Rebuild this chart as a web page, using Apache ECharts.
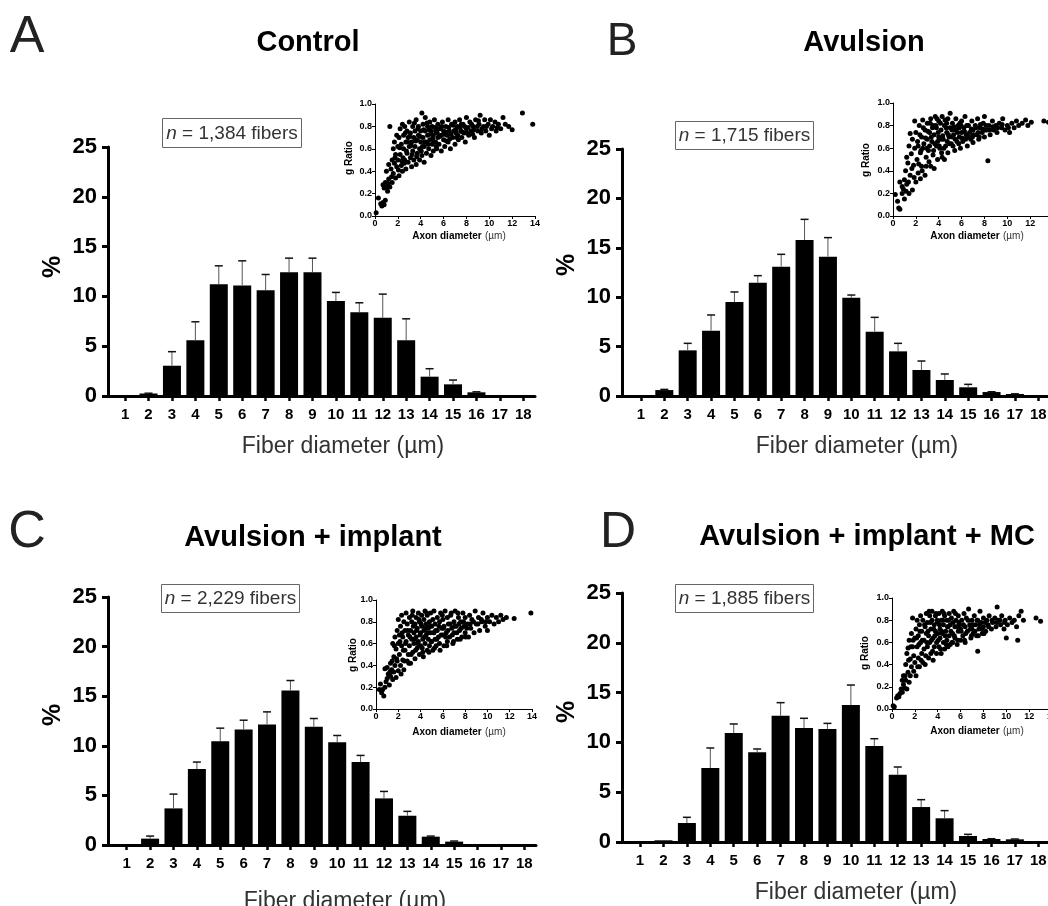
<!DOCTYPE html>
<html>
<head>
<meta charset="utf-8">
<script src="https://cdn.jsdelivr.net/npm/echarts@6/dist/echarts.min.js"></script>
<style>
  html, body { margin: 0; padding: 0; background: #fff; }
  #chart { width: 1048px; height: 906px; }
</style>
</head>
<body>
<div id="chart"></div>
<script>
// fiber diameter classes (µm)
const diameters = [1, 2, 3, 4, 5, 6, 7, 8, 9, 10, 11, 12, 13, 14, 15, 16, 17, 18];

// % of fibers per class, and SEM (upper whisker only)
const controlPct  = [0.05, 0.25, 3.04, 5.6, 11.23, 11.1, 10.63, 12.43, 12.43, 9.53, 8.42, 7.85, 5.6, 1.94, 1.17, 0.37, 0.05, 0.1];
const controlSem  = [0, 0.03, 1.41, 1.85, 1.84, 2.47, 1.57, 1.41, 1.41, 0.87, 0.94, 2.38, 2.15, 0.8, 0.43, 0.05, 0, 0];
const avulsionPct = [0.03, 0.6, 4.62, 6.61, 9.51, 11.47, 13.09, 15.79, 14.1, 9.95, 6.51, 4.52, 2.63, 1.62, 0.88, 0.4, 0.2, 0.05];
const avulsionSem = [0, 0.07, 0.71, 1.59, 1.02, 0.71, 1.25, 2.09, 1.93, 0.27, 1.45, 0.81, 0.91, 0.61, 0.3, 0.03, 0.02, 0];
const implantPct  = [0.02, 0.64, 3.69, 7.65, 10.47, 11.64, 12.15, 15.57, 11.91, 10.37, 8.36, 4.7, 2.95, 0.84, 0.34, 0.02, 0.02, 0.02];
const implantSem  = [0, 0.26, 1.44, 0.71, 1.31, 0.94, 1.27, 1.01, 0.84, 0.67, 0.67, 0.7, 0.44, 0.06, 0.06, 0, 0, 0];
const mcPct       = [0.03, 0.17, 1.91, 7.43, 10.94, 9.0, 12.68, 11.45, 11.35, 13.76, 9.64, 6.76, 3.51, 2.38, 0.6, 0.3, 0.27, 0.05];
const mcSem       = [0, 0, 0.57, 2.01, 0.91, 0.34, 1.31, 0.97, 0.56, 2.0, 0.73, 0.77, 0.74, 0.77, 0.17, 0.03, 0.03, 0];

const titles = ['Control', 'Avulsion', 'Avulsion + implant', 'Avulsion + implant + MC'];
const letters = ['A', 'B', 'C', 'D'];
const fiberCounts = ['1,384', '1,715', '2,229', '1,885'];

// inset: [axon diameter (µm), g ratio]
const controlRatio = [
  [0.1,0.03],[0.3,0.16],[0.5,0.11],[0.6,0.09],[0.7,0.12],[0.8,0.1],[0.9,0.14],[0.7,0.28],[0.8,0.25],[0.9,0.3],
  [1.0,0.26],[1.1,0.22],[1.2,0.33],[1.3,0.8],[1.3,0.26],[1.4,0.42],[1.5,0.5],[1.5,0.3],[1.6,0.38],[1.6,0.6],
  [1.7,0.47],[1.7,0.66],[1.8,0.34],[1.8,0.55],[1.9,0.72],[1.9,0.44],[2.0,0.62],[2.0,0.5],[1.2,0.46],[1.0,0.4],
  [2.1,0.36],[2.1,0.7],[2.2,0.55],[2.2,0.78],[2.3,0.45],[2.3,0.64],[2.4,0.82],[2.4,0.4],[2.5,0.6],[2.5,0.72],
  [2.6,0.5],[2.6,0.8],[2.7,0.66],[2.7,0.42],[2.8,0.56],[2.8,0.76],[2.9,0.7],[2.9,0.48],[3.0,0.62],[3.0,0.84],
  [3.1,0.52],[3.1,0.74],[3.2,0.44],[3.2,0.66],[3.3,0.8],[3.3,0.58],[3.4,0.7],[3.4,0.5],[3.5,0.76],[3.5,0.62],
  [3.6,0.86],[3.6,0.46],[3.7,0.68],[3.7,0.56],[3.8,0.8],[3.8,0.72],[3.9,0.6],[3.9,0.5],[4.0,0.76],[4.0,0.66],
  [4.1,0.92],[4.1,0.54],[4.2,0.7],[4.2,0.82],[4.3,0.62],[4.3,0.48],[4.4,0.76],[4.4,0.88],[4.5,0.66],[4.5,0.56],
  [4.6,0.8],[4.6,0.72],[4.7,0.6],[4.8,0.84],[4.8,0.68],[4.9,0.54],[4.9,0.76],[5.0,0.64],[5.0,0.8],
  [5.1,0.72],[5.1,0.58],[5.2,0.86],[5.3,0.66],[5.3,0.76],[5.4,0.6],[5.5,0.82],[5.5,0.7],[5.6,0.64],[5.7,0.78],
  [5.8,0.72],[5.8,0.58],[5.9,0.84],[6.0,0.68],[6.0,0.76],
  [6.1,0.62],[6.2,0.8],[6.3,0.72],[6.4,0.86],[6.4,0.66],[6.5,0.76],[6.6,0.6],[6.7,0.82],[6.8,0.7],[6.9,0.76],
  [7.0,0.64],[7.0,0.84],[7.1,0.74],[7.2,0.8],[7.3,0.68],[7.4,0.86],[7.5,0.76],[7.6,0.7],[7.7,0.82],[7.8,0.74],
  [7.9,0.66],[8.0,0.88],[8.0,0.78],[8.2,0.72],[8.3,0.84],[8.4,0.76],[8.6,0.8],[8.7,0.7],[8.8,0.86],[9.0,0.76],
  [9.1,0.82],[9.2,0.9],[9.3,0.74],[9.5,0.8],[9.6,0.86],[9.7,0.76],[9.9,0.82],[10.0,0.72],[10.1,0.86],
  [10.3,0.8],[10.5,0.84],[10.6,0.76],[10.8,0.82],[11.0,0.78],[11.2,0.88],[11.4,0.82],[11.7,0.8],[12.0,0.77],
  [12.9,0.92],[13.8,0.82]
];
const controlRatioCore = [
  [2.15,0.61],[2.45,0.52],[2.65,0.74],[2.85,0.66],[3.05,0.71],[3.25,0.55],[3.45,0.83],[3.55,0.67],[3.75,0.78],[3.95,0.71],
  [4.05,0.58],[4.25,0.77],[4.35,0.66],[4.55,0.83],[4.65,0.64],[4.85,0.73],[5.05,0.69],[5.25,0.79],[5.35,0.62],[5.45,0.74],
  [5.65,0.71],[5.85,0.8],[6.05,0.73],[6.25,0.67],[6.45,0.79],[6.65,0.73],[6.85,0.81],[7.05,0.77],[7.25,0.72],[7.45,0.79],
  [7.65,0.75],[7.85,0.8],[8.15,0.79],[8.45,0.82],[8.65,0.77],[8.95,0.8],[9.35,0.78],[9.75,0.8],[10.2,0.78],[10.7,0.79],
  [2.35,0.49],[2.75,0.58],[3.15,0.63],[3.65,0.53],[4.15,0.62],[4.75,0.77],[5.15,0.66],[5.55,0.78],[6.15,0.75],[6.55,0.69],
  [7.15,0.7],[7.55,0.82],[8.05,0.74],[8.55,0.73],[9.05,0.85],[1.75,0.52],[1.45,0.35],[1.15,0.29],[2.05,0.41],[2.55,0.47]
];
const avulsionRatio = [
  [0.2,0.19],[0.4,0.13],[0.5,0.07],[0.6,0.06],[0.6,0.3],[0.8,0.2],[0.8,0.26],[0.9,0.24],[1.0,0.32],[1.0,0.15],
  [1.1,0.4],[1.2,0.28],[1.3,0.47],[1.4,0.62],[1.5,0.73],[1.5,0.36],[1.6,0.55],[1.7,0.23],[1.7,0.68],[1.8,0.45],
  [1.9,0.6],[1.9,0.84],[2.0,0.3],[2.0,0.74],[1.2,0.52],[1.4,0.2],
  [2.1,0.5],[2.2,0.62],[2.2,0.38],[2.3,0.8],[2.4,0.56],[2.5,0.7],[2.5,0.44],[2.6,0.85],[2.7,0.64],[2.8,0.36],
  [2.8,0.76],[2.9,0.52],[3.0,0.68],[3.0,0.82],[2.4,0.33],[2.6,0.6],[2.9,0.44],
  [3.1,0.58],[3.2,0.74],[3.3,0.86],[3.3,0.44],[3.4,0.66],[3.5,0.8],[3.5,0.54],[3.6,0.72],[3.7,0.88],[3.8,0.62],
  [3.8,0.78],[3.9,0.5],[4.0,0.7],[4.0,0.84],[3.6,0.42],[3.2,0.62],[3.9,0.66],
  [4.1,0.6],[4.2,0.76],[4.3,0.88],[4.3,0.52],[4.4,0.68],[4.5,0.8],[4.6,0.62],[4.7,0.74],[4.8,0.86],[4.8,0.56],
  [4.9,0.7],[5.0,0.91],[5.0,0.78],[4.5,0.5],[4.2,0.68],[4.7,0.82],
  [5.1,0.64],[5.2,0.82],[5.3,0.72],[5.4,0.58],[5.5,0.86],[5.5,0.76],[5.6,0.66],[5.7,0.8],[5.8,0.7],[5.9,0.6],
  [6.0,0.84],[6.0,0.74],[5.2,0.7],[5.8,0.78],
  [6.1,0.66],[6.2,0.78],[6.3,0.88],[6.4,0.72],[6.5,0.62],[6.6,0.8],[6.7,0.74],[6.8,0.68],[6.9,0.84],[7.0,0.76],
  [7.0,0.65],[7.2,0.8],[7.3,0.72],[7.4,0.86],[7.5,0.68],[7.6,0.78],[7.8,0.74],[7.9,0.82],[8.0,0.7],[8.0,0.88],
  [8.2,0.76],[8.3,0.49],[8.4,0.8],[8.5,0.72],[8.7,0.84],[8.8,0.76],[9.0,0.8],[9.1,0.74],[9.3,0.82],[9.5,0.78],
  [9.6,0.86],[9.8,0.76],[10.0,0.8],[10.2,0.74],[10.4,0.82],[10.6,0.78],[10.8,0.84],[11.0,0.8],[11.3,0.82],
  [11.6,0.85],[11.8,0.8],[12.1,0.83],[13.2,0.84],[13.6,0.83],[14.0,0.92]
];
const avulsionRatioCore = [
  [2.15,0.66],[2.35,0.72],[2.45,0.58],[2.65,0.78],[2.85,0.69],[3.05,0.75],[3.15,0.48],[3.35,0.7],[3.45,0.78],[3.65,0.64],
  [3.75,0.8],[3.95,0.74],[4.05,0.62],[4.15,0.82],[4.35,0.71],[4.45,0.6],[4.65,0.78],[4.85,0.72],[4.95,0.64],[5.15,0.76],
  [5.35,0.79],[5.45,0.68],[5.65,0.74],[5.85,0.82],[6.05,0.69],[6.25,0.75],[6.45,0.8],[6.65,0.7],[6.85,0.77],[7.05,0.72],
  [7.25,0.78],[7.45,0.74],[7.65,0.81],[7.85,0.77],[8.15,0.8],[8.45,0.76],[8.75,0.79],[9.15,0.78],[9.55,0.81],[10.1,0.78],
  [1.65,0.42],[1.85,0.34],[1.35,0.3],[1.15,0.22],[2.25,0.46],[2.55,0.4],[2.95,0.6],[3.55,0.58],[4.25,0.56],[4.75,0.66],
  [5.25,0.62],[5.75,0.64],[6.35,0.68],[6.95,0.7],[7.55,0.7],[8.05,0.76],[3.25,0.82],[3.85,0.86],[4.55,0.85],[5.95,0.8]
];
const implantRatio = [
  [0.3,0.18],[0.4,0.23],[0.5,0.15],[0.6,0.18],[0.7,0.12],[0.8,0.2],[0.9,0.25],[0.8,0.37],[1.0,0.38],[1.0,0.28],
  [1.1,0.32],[1.2,0.22],[1.3,0.42],[1.3,0.3],[1.4,0.36],[1.5,0.6],[1.5,0.27],[1.6,0.48],[1.6,0.34],[1.7,0.66],
  [1.7,0.4],[1.8,0.55],[1.8,0.29],[1.9,0.72],[1.9,0.44],[2.0,0.6],[2.0,0.35],[2.0,0.82],
  [2.1,0.5],[2.1,0.68],[2.2,0.4],[2.2,0.76],[2.3,0.58],[2.3,0.86],[2.4,0.45],[2.4,0.66],[2.5,0.8],[2.5,0.36],
  [2.6,0.54],[2.6,0.72],[2.7,0.88],[2.7,0.62],[2.8,0.44],[2.8,0.78],[2.9,0.68],[2.9,0.5],[3.0,0.84],[3.0,0.58],
  [3.1,0.72],[3.1,0.42],[3.2,0.64],[3.2,0.8],[3.3,0.52],[3.3,0.9],[3.4,0.7],[3.4,0.6],[3.5,0.78],[3.5,0.46],
  [3.6,0.66],[3.6,0.84],[3.7,0.56],[3.7,0.74],[3.8,0.88],[3.8,0.62],[3.9,0.5],[3.9,0.8],[4.0,0.7],[4.0,0.58],
  [4.1,0.86],[4.1,0.76],[4.2,0.64],[4.2,0.52],[4.3,0.82],[4.3,0.72],[4.4,0.9],[4.4,0.6],[4.5,0.68],[4.5,0.78],
  [4.6,0.54],[4.6,0.86],[4.7,0.74],[4.7,0.64],[4.8,0.8],[4.8,0.58],[4.9,0.7],[4.9,0.88],[5.0,0.76],[5.0,0.62],
  [5.1,0.82],[5.1,0.54],[5.2,0.7],[5.2,0.9],[5.3,0.64],[5.3,0.78],[5.4,0.58],[5.5,0.84],[5.5,0.72],[5.6,0.66],
  [5.7,0.8],[5.7,0.6],[5.8,0.88],[5.9,0.74],[6.0,0.68],[6.0,0.82],
  [6.1,0.58],[6.1,0.76],[6.2,0.9],[6.3,0.7],[6.4,0.84],[6.4,0.62],[6.5,0.78],[6.6,0.66],[6.7,0.86],[6.8,0.74],
  [6.9,0.6],[7.0,0.8],[7.0,0.7],[7.1,0.9],[7.2,0.76],[7.3,0.64],[7.4,0.84],[7.5,0.72],[7.6,0.8],[7.7,0.66],
  [7.8,0.88],[7.9,0.76],[8.0,0.7],[8.0,0.84],[8.2,0.78],[8.3,0.66],[8.4,0.86],[8.5,0.74],[8.6,0.82],[8.8,0.7],
  [8.9,0.9],[9.0,0.78],[9.2,0.84],[9.3,0.72],[9.5,0.8],[9.6,0.88],[9.8,0.76],[10.0,0.84],[10.0,0.72],
  [10.2,0.8],[10.4,0.86],[10.6,0.78],[10.8,0.84],[11.0,0.8],[11.2,0.86],[11.4,0.82],[11.7,0.84],[12.4,0.83],[13.9,0.88]
];
const implantRatioCore = [
  [2.15,0.62],[2.35,0.7],[2.45,0.54],[2.65,0.6],[2.85,0.72],[3.05,0.66],[3.15,0.5],[3.35,0.76],[3.45,0.64],[3.65,0.72],
  [3.75,0.6],[3.95,0.68],[4.05,0.78],[4.15,0.56],[4.35,0.66],[4.45,0.74],[4.65,0.7],[4.85,0.76],[4.95,0.62],[5.15,0.7],
  [5.35,0.72],[5.45,0.64],[5.65,0.76],[5.85,0.68],[6.05,0.74],[6.25,0.66],[6.45,0.72],[6.65,0.78],[6.85,0.68],[7.05,0.76],
  [7.25,0.7],[7.45,0.78],[7.65,0.74],[7.85,0.8],[8.15,0.74],[8.45,0.78],[8.75,0.8],[9.15,0.78],[9.45,0.82],[9.85,0.8],
  [1.65,0.58],[1.85,0.46],[1.45,0.44],[1.25,0.34],[2.25,0.32],[2.55,0.44],[2.95,0.42],[3.55,0.54],[4.25,0.48],[4.75,0.52],
  [5.25,0.56],[5.75,0.54],[6.35,0.58],[6.95,0.62],[7.55,0.64],[8.05,0.66],[3.25,0.86],[3.85,0.82],[4.55,0.88],[5.95,0.86],
  [6.75,0.88],[7.35,0.88]
];
const mcRatio = [
  [0.1,0.03],[0.2,0.02],[0.4,0.1],[0.5,0.12],[0.6,0.11],[0.7,0.14],[0.8,0.18],[0.9,0.15],[0.9,0.26],[1.0,0.22],
  [1.0,0.3],[1.1,0.19],[1.2,0.26],[1.2,0.4],[1.3,0.18],[1.3,0.5],[1.4,0.55],[1.4,0.33],[1.5,0.62],[1.5,0.24],
  [1.6,0.45],[1.6,0.3],[1.7,0.68],[1.7,0.38],[1.8,0.56],[1.8,0.82],[1.9,0.48],[1.9,0.34],[2.0,0.64],[2.0,0.42],
  [2.1,0.72],[2.1,0.3],[2.2,0.56],[2.2,0.8],[2.3,0.46],[2.3,0.66],[2.4,0.38],[2.4,0.76],[2.5,0.6],[2.5,0.84],
  [2.6,0.5],[2.6,0.7],[2.7,0.42],[2.7,0.8],[2.8,0.62],[2.8,0.54],[2.9,0.74],[2.9,0.4],[3.0,0.68],[3.0,0.86],
  [3.1,0.56],[3.1,0.78],[3.2,0.46],[3.2,0.66],[3.3,0.84],[3.3,0.6],[3.4,0.72],[3.4,0.5],[3.5,0.8],[3.5,0.88],
  [3.6,0.64],[3.6,0.44],[3.7,0.76],[3.7,0.56],[3.8,0.7],[3.8,0.84],[3.9,0.6],[3.9,0.5],[4.0,0.78],[4.0,0.68],
  [4.1,0.86],[4.1,0.56],[4.2,0.72],[4.2,0.64],[4.3,0.8],[4.3,0.5],[4.4,0.68],[4.4,0.88],[4.5,0.6],[4.5,0.76],
  [4.6,0.84],[4.6,0.54],[4.7,0.7],[4.8,0.8],[4.8,0.62],[4.9,0.74],[4.9,0.56],[5.0,0.86],[5.0,0.66],
  [5.1,0.76],[5.1,0.58],[5.2,0.82],[5.3,0.68],[5.3,0.6],[5.4,0.88],[5.5,0.74],[5.5,0.64],[5.6,0.8],[5.7,0.58],
  [5.8,0.7],[5.8,0.84],[5.9,0.76],[6.0,0.62],[6.0,0.72],
  [6.1,0.8],[6.2,0.66],[6.3,0.86],[6.4,0.74],[6.4,0.6],[6.5,0.82],[6.6,0.7],[6.7,0.9],[6.8,0.76],[6.9,0.64],
  [7.0,0.8],[7.0,0.72],[7.1,0.68],[7.2,0.84],[7.3,0.76],[7.4,0.66],[7.5,0.52],[7.5,0.8],[7.6,0.72],[7.7,0.88],
  [7.8,0.78],[7.9,0.68],[8.0,0.82],[8.0,0.74],[8.2,0.7],[8.3,0.8],[8.4,0.76],[8.5,0.84],[8.7,0.72],[8.8,0.78],
  [9.0,0.82],[9.1,0.74],[9.2,0.92],[9.3,0.8],[9.5,0.76],[9.6,0.84],[9.8,0.72],[9.9,0.8],[10.0,0.64],[10.1,0.76],
  [10.3,0.82],[10.5,0.78],[10.7,0.8],[10.9,0.74],[11.0,0.62],[11.1,0.84],[11.3,0.88],[11.5,0.8],[12.6,0.82],[13.0,0.79]
];
const mcRatioCore = [
  [2.15,0.64],[2.35,0.58],[2.45,0.7],[2.65,0.62],[2.85,0.76],[3.05,0.6],[3.15,0.7],[3.35,0.78],[3.45,0.62],[3.65,0.72],
  [3.75,0.66],[3.95,0.8],[4.05,0.62],[4.15,0.76],[4.35,0.7],[4.45,0.8],[4.65,0.66],[4.85,0.74],[4.95,0.8],[5.15,0.7],
  [5.35,0.78],[5.45,0.66],[5.65,0.74],[5.85,0.78],[6.05,0.7],[6.25,0.76],[6.45,0.68],[6.65,0.8],[6.85,0.72],[7.05,0.76],
  [7.25,0.7],[7.45,0.8],[7.65,0.76],[7.85,0.72],[8.15,0.78],[8.45,0.74],[8.75,0.8],[9.15,0.78],[9.45,0.8],[9.85,0.78],
  [1.65,0.56],[1.85,0.62],[1.45,0.44],[1.15,0.3],[2.25,0.38],[2.55,0.44],[2.95,0.48],[3.55,0.52],[4.25,0.54],[4.75,0.58],
  [5.25,0.6],[5.75,0.62],[6.35,0.62],[6.95,0.66],[7.55,0.66],[8.05,0.68],[3.25,0.88],[3.85,0.86],[4.55,0.86],[5.55,0.86]
];

const pctSets = [controlPct, avulsionPct, implantPct, mcPct];
const semSets = [controlSem, avulsionSem, implantSem, mcSem];
const ratioSets = [
  controlRatio.concat(controlRatioCore),
  avulsionRatio.concat(avulsionRatioCore),
  implantRatio.concat(implantRatioCore),
  mcRatio.concat(mcRatioCore)
];

// layout in px: main grid, x-axis min, inset grid, and text anchors
const layouts = [
  { left: 108, top: 147, height: 249, min: 0.27,
    inset: { left: 375, top: 104, width: 160, height: 112 },
    letter: [27, 38, 52], title: [308, 43], box: [162, 118, 139, 29],
    xName: [343, 447], yName: [53, 267], axonName: [459, 236], gName: [349, 158] },
  { left: 622, top: 149, height: 247, min: 0.19,
    inset: { left: 893, top: 103, width: 160, height: 113 },
    letter: [622, 42, 46], title: [864, 43], box: [675, 121, 138, 28],
    xName: [857, 447], yName: [567, 265], axonName: [977, 236], gName: [866, 160] },
  { left: 108, top: 597, height: 248, min: 0.2,
    inset: { left: 376, top: 600, width: 156, height: 109 },
    letter: [27, 533, 52], title: [313, 538], box: [161, 584, 138, 28],
    xName: [345, 902], yName: [53, 715], axonName: [459, 732], gName: [353, 655] },
  { left: 622, top: 593, height: 249, min: 0.23,
    inset: { left: 892, top: 598, width: 160, height: 111 },
    letter: [618, 533, 50], title: [867, 537], box: [675, 584, 138, 28],
    xName: [856, 893], yName: [567, 712], axonName: [977, 731], gName: [865, 653] }
];

const FONT = '"Liberation Sans", Arial, Helvetica, sans-serif';
const grids = [], xAxes = [], yAxes = [], series = [], graphic = [];

function errorItem(params, api) {
  const x = api.value(0), v = api.value(1), e = api.value(2);
  if (!(e > 0)) return null;
  const p0 = api.coord([x, v]);
  const p1 = api.coord([x, v + e]);
  return {
    type: 'group',
    children: [
      { type: 'line', shape: { x1: p0[0], y1: p0[1], x2: p1[0], y2: p1[1] }, style: { stroke: '#555', lineWidth: 1 } },
      { type: 'line', shape: { x1: p1[0] - 4, y1: p1[1], x2: p1[0] + 4, y2: p1[1] }, style: { stroke: '#111', lineWidth: 1.5 } }
    ]
  };
}

function text(x, y, str, font, extra) {
  return Object.assign({
    type: 'text', x: x, y: y, z: 50,
    style: { text: str, font: font, fill: '#000', align: 'center', verticalAlign: 'middle' }
  }, extra || {});
}

layouts.forEach((L, i) => {
  const gi = grids.length;
  // main histogram
  grids.push({ left: L.left, top: L.top, width: Math.round((18.5 - L.min) * 23.4), height: L.height, containLabel: false, outerBoundsMode: 'none' });
  // inset scatter
  grids.push(Object.assign({ containLabel: false, outerBoundsMode: 'none' }, L.inset));

  xAxes.push({
    type: 'value', gridIndex: gi, min: L.min, max: 18.5,
    splitLine: { show: false },
    axisLine: { lineStyle: { color: '#000', width: 3 } },
    axisTick: { customValues: diameters, length: 5, lineStyle: { color: '#000', width: 2.5 } },
    axisLabel: { customValues: diameters, margin: 11, color: '#000', fontSize: 15, fontWeight: 'bold', fontFamily: FONT }
  });
  yAxes.push({
    type: 'value', gridIndex: gi, min: 0, max: 25, interval: 5,
    splitLine: { show: false },
    axisLine: { show: true, lineStyle: { color: '#000', width: 3 } },
    axisTick: { show: true, length: 6, lineStyle: { color: '#000', width: 3 } },
    axisLabel: { margin: 11, color: '#000', fontSize: 22, fontWeight: 'bold', fontFamily: FONT }
  });
  xAxes.push({
    type: 'value', gridIndex: gi + 1, min: 0, max: 14, interval: 2,
    splitLine: { show: false },
    axisLine: { lineStyle: { color: '#000', width: 1 } },
    axisTick: { length: 3, lineStyle: { color: '#000', width: 1 } },
    axisLabel: { margin: 3, color: '#000', fontSize: 9, fontWeight: 'bold', fontFamily: FONT }
  });
  yAxes.push({
    type: 'value', gridIndex: gi + 1, min: 0, max: 1, interval: 0.2,
    splitLine: { show: false },
    axisLine: { show: true, lineStyle: { color: '#000', width: 1 } },
    axisTick: { show: true, length: 3, lineStyle: { color: '#000', width: 1 } },
    axisLabel: { margin: 3, color: '#000', fontSize: 9, fontWeight: 'bold', fontFamily: FONT,
      formatter: v => v.toFixed(1) }
  });

  const pct = pctSets[i], sem = semSets[i];
  series.push({
    type: 'bar', xAxisIndex: gi, yAxisIndex: gi, barWidth: 18,
    itemStyle: { color: '#000' }, silent: true,
    data: diameters.map((d, k) => [d, pct[k]])
  });
  series.push({
    type: 'custom', xAxisIndex: gi, yAxisIndex: gi, z: 5, silent: true,
    renderItem: errorItem,
    encode: { x: 0, y: 1 },
    data: diameters.map((d, k) => [d, pct[k], sem[k]])
  });
  series.push({
    type: 'scatter', xAxisIndex: gi + 1, yAxisIndex: gi + 1, silent: true,
    symbolSize: 5, itemStyle: { color: '#000', opacity: 1 },
    data: ratioSets[i]
  });

  // panel letter and title
  graphic.push(text(L.letter[0], L.letter[1], letters[i], L.letter[2] + 'px ' + FONT, { style: { text: letters[i], font: L.letter[2] + 'px ' + FONT, fill: '#222', align: 'center', verticalAlign: 'middle' } }));
  graphic.push(text(L.title[0], L.title[1], titles[i], 'bold 29px ' + FONT));
  // n box
  graphic.push({ type: 'rect', z: 50, shape: { x: L.box[0] + 0.5, y: L.box[1] + 0.5, width: L.box[2], height: L.box[3] },
    style: { fill: '#fff', stroke: '#666', lineWidth: 1 } });
  graphic.push({ type: 'text', z: 51, x: L.box[0] + L.box[2] / 2 + 0.5, y: L.box[1] + L.box[3] / 2 + 1,
    style: { text: '{i|n} = ' + fiberCounts[i] + ' fibers', font: '19px ' + FONT, fill: '#333', align: 'center', verticalAlign: 'middle',
      rich: { i: { fontStyle: 'italic', fontSize: 19, fontFamily: FONT, fill: '#333' } } } });
  // axis names
  graphic.push(text(L.xName[0], L.xName[1], 'Fiber diameter (µm)', '23px ' + FONT, { style: { text: 'Fiber diameter (µm)', font: '23px ' + FONT, fill: '#333', align: 'center', verticalAlign: 'middle' } }));
  graphic.push(text(L.yName[0], L.yName[1], '%', 'bold 25px ' + FONT, { rotation: Math.PI / 2 }));
  graphic.push({ type: 'text', z: 50, x: L.axonName[0], y: L.axonName[1],
    style: { text: '{b|Axon diameter} {r|(µm)}', align: 'center', verticalAlign: 'middle',
      rich: { b: { fontSize: 10, fontWeight: 'bold', fontFamily: FONT, fill: '#000' }, r: { fontSize: 10, fontFamily: FONT, fill: '#333' } } } });
  graphic.push(text(L.gName[0], L.gName[1], 'g Ratio', 'bold 10px ' + FONT, { rotation: Math.PI / 2 }));
});

const chart = echarts.init(document.getElementById('chart'), null, { renderer: 'canvas' });
chart.setOption({
  animation: false,
  backgroundColor: '#fff',
  grid: grids,
  xAxis: xAxes,
  yAxis: yAxes,
  series: series,
  graphic: graphic
});
</script>
</body>
</html>
